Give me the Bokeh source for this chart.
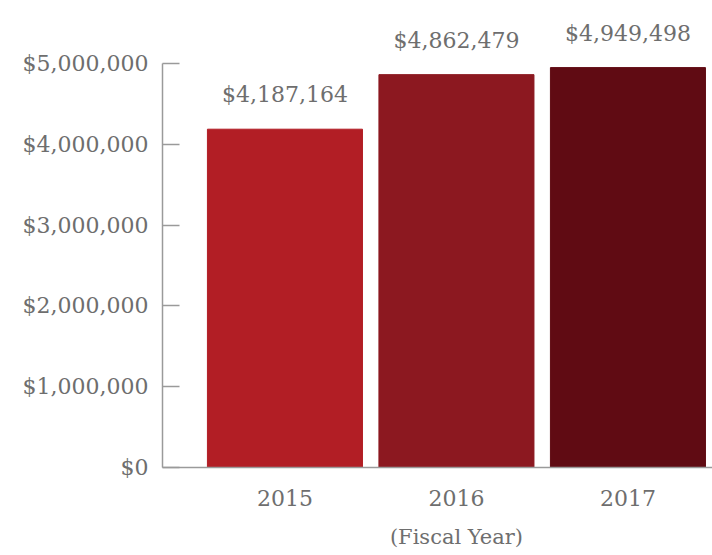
from bokeh.plotting import figure
from bokeh.models import ColumnDataSource, Range1d, FixedTicker, NumeralTickFormatter, LinearAxis
from bokeh.core.properties import value
from bokeh.embed import file_html
from bokeh.resources import INLINE

years = ["2015", "2016", "2017"]
amounts = [4187164, 4862479, 4949498]
bar_colors = ["#b21e25", "#8c1820", "#600b13"]
y_ticks = [0, 1000000, 2000000, 3000000, 4000000, 5000000]
x_title = "(Fiscal Year)"

FONT = "DejaVu Serif"
GREY = "#6e6e6e"

idx = list(range(len(years)))
src = ColumnDataSource(dict(
    x=idx,
    top=amounts,
    color=bar_colors,
    label=["${:,}".format(v) for v in amounts],
))

p = figure(width=712, height=555, output_backend="svg", toolbar_location=None,
           x_range=Range1d(-0.714, 2.493), y_range=Range1d(0, 5780000),
           min_border_left=162, min_border_right=0, min_border_top=0, min_border_bottom=88)
p.outline_line_color = None
p.xgrid.visible = False
p.ygrid.visible = False

p.vbar(x="x", top="top", width=0.904, bottom=0, color="color", source=src)
p.text(x="x", y="top", text="label", source=src, text_align="center", text_baseline="bottom",
       y_offset=-22, text_font=value(FONT), text_font_size="22px", text_color=GREY)

ya = p.yaxis[0]
ya.ticker = FixedTicker(ticks=y_ticks)
ya.formatter = NumeralTickFormatter(format="$0,0")
ya.bounds = (0, 5000000)
ya.major_tick_in = 17
ya.major_tick_out = 0
ya.minor_tick_line_color = None
ya.axis_line_color = "#9a9a9a"
ya.major_tick_line_color = "#9a9a9a"
ya.axis_line_width = 1.5
ya.major_tick_line_width = 1.5
ya.major_label_standoff = 14
ya.major_label_text_font = FONT
ya.major_label_text_font_size = "22px"
ya.major_label_text_color = GREY

xa = p.xaxis[0]
xa.ticker = FixedTicker(ticks=idx)
xa.major_label_overrides = {i: y for i, y in zip(idx, years)}
xa.major_tick_line_color = None
xa.minor_tick_line_color = None
xa.axis_line_color = "#9a9a9a"
xa.axis_line_width = 1.5
xa.major_label_standoff = 16
xa.major_label_text_font = FONT
xa.major_label_text_font_size = "22px"
xa.major_label_text_color = GREY

# second axis below carrying the "(Fiscal Year)" title under the middle year
xa2 = LinearAxis(ticker=FixedTicker(ticks=[1]), major_label_overrides={1: x_title})
xa2.axis_line_color = None
xa2.major_tick_line_color = None
xa2.minor_tick_line_color = None
xa2.major_label_standoff = 10
xa2.major_label_text_font = FONT
xa2.major_label_text_font_size = "21px"
xa2.major_label_text_color = GREY
p.add_layout(xa2, "below")

open("out.html", "w").write(file_html(p, INLINE))
